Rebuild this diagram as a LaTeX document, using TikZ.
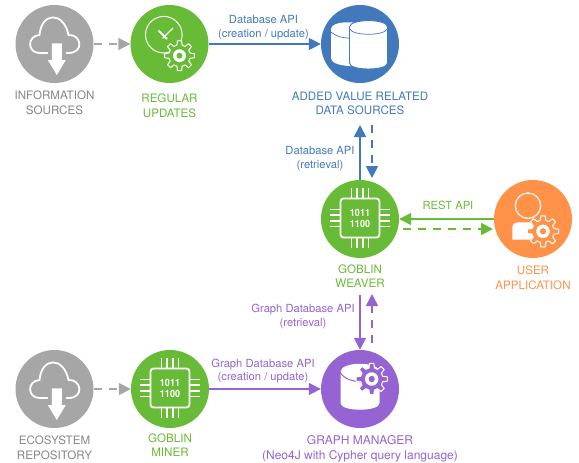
\documentclass[tikz,border=0pt]{standalone}
\usepackage{fontspec}
\setmainfont{TeX Gyre Heros}
\usetikzlibrary{arrows.meta}
\definecolor{cGray}{HTML}{A6A6A6}
\definecolor{cGrayT}{HTML}{858585}
\definecolor{cGreen}{HTML}{68BB36}
\definecolor{cBlue}{HTML}{4279BD}
\definecolor{cOrange}{HTML}{FF9248}
\definecolor{cPurple}{HTML}{9563D2}
\tikzset{
  x=1pt,y=-1pt,
  disc/.style={circle,minimum size=78pt,inner sep=0pt,fill=#1},
  lab/.style={align=center,inner sep=0pt,text=#1,font=\fontsize{11.6}{14.6}\selectfont},
  api/.style={align=center,inner sep=0pt,text=#1,font=\fontsize{11.2}{13.8}\selectfont},
  conn/.style={draw=#1,line width=1.7pt,-{Triangle[length=12pt,width=12pt]}},
  dconn/.style={conn=#1,dash pattern=on 8pt off 7pt},
  wl/.style={draw=white,line width=1.8pt},
}
% gear: centre, radius, background colour
\newcommand{\gearAt}[4]{%
  \begin{scope}[shift={(#1,#2)}]
    \draw[white,line width=1pt,fill=#4,line join=round]
      (-14:0.72*#3) foreach \a in {0,45,...,315}{
        -- (\a-14:0.72*#3) -- (\a-8:#3) -- (\a+8:#3) -- (\a+14:0.72*#3)} -- cycle;
    \fill[white] (0,0) circle[radius=0.43*#3];
    \fill[#4] (0,0) circle[radius=0.2*#3];
  \end{scope}}
\newcommand{\cloudIcon}{%
  \draw[wl,line cap=round]
    (-7,9) -- (-15,9) .. controls (-27,9) and (-28,-8) .. (-15,-9)
    .. controls (-13,-32) and (9,-33) .. (14,-9)
    .. controls (27,-10) and (30,9) .. (14,9) -- (12,9);
  \fill[white] (-2.7,-0.7) -- (7.3,-0.7) -- (7.3,16) -- (11.3,16) -- (2.3,31) -- (-6.7,16) -- (-2.7,16) -- cycle;}
\newcommand{\chipIcon}{%
  \draw[wl,rounded corners=3pt] (-19.5,-20.5) rectangle (19.5,18.5);
  \foreach \p in {-8.7,-3,3,8.7}{
    \draw[wl,line width=1.4pt] (\p,-31) -- (\p,-20.5);
    \draw[wl,line width=1.4pt] (\p,18.5) -- (\p,29);
    \draw[wl,line width=1.4pt] (-30,\p-1) -- (-19.5,\p-1);
    \draw[wl,line width=1.4pt] (19.5,\p-1) -- (30,\p-1);}
  \node[inner sep=0pt,text=white,align=center,xscale=0.9,font=\fontsize{10}{11}\bfseries\selectfont] at (0,-1) {1011\\1100};}
\begin{document}
\begin{tikzpicture}
\useasboundingbox (0,0) rectangle (579,463);
% nodes
\node[disc=cGray]   (info)    at (54.5,44)  {};
\node[disc=cGreen]  (regular) at (169.5,44) {};
\node[disc=cBlue]   (db)      at (360,44)   {};
\node[disc=cGreen]  (weaver)  at (360,219)  {};
\node[disc=cOrange] (user)    at (533,219)  {};
\node[disc=cGray]   (eco)     at (54.5,389) {};
\node[disc=cGreen]  (miner)   at (170,389)  {};
\node[disc=cPurple] (graph)   at (360,389)  {};
% icons
\begin{scope}[shift={(info.center)}]\cloudIcon\end{scope}
\begin{scope}[shift={(eco.center)}]\cloudIcon\end{scope}
\begin{scope}[shift={(weaver.center)}]\chipIcon\end{scope}
\begin{scope}[shift={(miner.center)}]\chipIcon\end{scope}
% clock + gear
\begin{scope}[shift={(regular.center)}]
  \draw[white,line width=1pt] (-5.7,-9.3) circle[radius=18.3];
  \draw[white,line width=2pt] (-11,-13.5) -- (-2.5,-5);
  \draw[white,line width=1.1pt] (-7,-5.5) -- (3.5,-16);
  \gearAt{10}{11.7}{15}{cGreen}
\end{scope}
% cylinders
\begin{scope}[shift={(db.center)}]
  \fill[white] (-29,-15) .. controls (-29,-24) and (5,-24) .. (5,-15) -- (5,22)
     .. controls (-8,23) and (-29,22) .. (-29,14) -- cycle;
  \draw[cBlue,line width=0.7pt] (-29,-12) .. controls (-22,-6) and (-14,-6) .. (-10,-6);
  \draw[cBlue,line width=0.9pt,fill=white] (-10.5,-17) .. controls (-10.5,-25.5) and (27.5,-25.5) .. (27.5,-17)
     -- (27.5,19) .. controls (27.5,27) and (-10.5,27) .. (-10.5,19) -- cycle;
  \draw[cBlue,line width=0.7pt] (-10,-15) .. controls (-8,-8) and (25,-8) .. (27,-15);
\end{scope}
\begin{scope}[shift={(graph.center)}]
  \fill[white] (-19.5,-17) .. controls (-19.5,-28) and (19.5,-28) .. (19.5,-17)
     -- (19.5,14) .. controls (19.5,23) and (-19.5,23) .. (-19.5,14) -- cycle;
  \draw[cPurple,line width=1pt] (-20,-17) .. controls (-16,-9) and (-4,-7) .. (4,-7);
  \gearAt{11.7}{-10}{15.7}{cPurple}
\end{scope}
% user + gear
\begin{scope}[shift={(user.center)}]
  \draw[white,line width=1.2pt] (-5,-13.3) circle[radius=12.7];
  \fill[white] (-20.7,20.7) -- (-20.7,9) .. controls (-20.7,5) and (-18,3.3) .. (-14,3.3) -- (6,3.3) -- (6,20.7) -- cycle;
  \gearAt{10}{12.3}{15.7}{cOrange}
\end{scope}
% free ends
\coordinate (dbUp)    at (360,125);
\coordinate (dbDownS) at (372,125);
\coordinate (dbDownE) at (372,178);
\coordinate (wvS)     at (360,295);
\coordinate (gmUpS)   at (372,343);
\coordinate (gmUpE)   at (372,294);
\coordinate (restS)   at (403,229);
\coordinate (restE)   at (493,229);
% connectors
\draw[dconn=cGray]   (info.east) -- (regular.west);
\draw[conn=cBlue]    (regular.east) -- (db.west);
\draw[conn=cBlue]    (weaver.north) -- (dbUp);
\draw[dconn=cBlue]   (dbDownS) -- (dbDownE);
\draw[conn=cGreen]   (user.west) -- (weaver.east);
\draw[dconn=cGreen]  (restS) -- (restE);
\draw[conn=cPurple]  (wvS) -- (graph.north);
\draw[dconn=cPurple] (gmUpS) -- (gmUpE);
\draw[dconn=cGray]   (eco.east) -- (miner.west);
\draw[conn=cPurple]  (miner.east) -- (graph.west);
% labels
\node[lab=cGrayT] (tInfo) at (54.5,102.7) {INFORMATION\\SOURCES};
\node[lab=cGreen] (tReg)  at (169.5,105.7) {REGULAR\\UPDATES};
\node[lab=cBlue]  (tDb)   at (360,103.5) {ADDED VALUE RELATED\\DATA SOURCES};
\node[lab=cGreen] (tWv)   at (360,276) {GOBLIN\\WEAVER};
\node[lab=cOrange](tUsr)  at (533,278) {USER\\APPLICATION};
\node[lab=cGrayT] (tEco)  at (54.5,447.5) {ECOSYSTEM\\REPOSITORY};
\node[lab=cGreen] (tMin)  at (170,445.2) {GOBLIN\\MINER};
\node[lab=cPurple,font=\fontsize{12}{15}\selectfont](tGm) at (360,448.5) {GRAPH MANAGER\\(Neo4J with Cypher query language)};
\node[api=cBlue]  (aDb1)  at (263.5,27.5) {Database API\\(creation / update)};
\node[api=cBlue]  (aDb2)  at (320,158.5) {Database API\\(retrieval)};
\node[api=cGreen] (aRest) at (448,205.5) {REST API};
\node[api=cPurple](aG1)   at (303,316.5) {Graph Database API\\(retrieval)};
\node[api=cPurple](aG2)   at (263,371) {Graph Database API\\(creation / update)};
\end{tikzpicture}
\end{document}
